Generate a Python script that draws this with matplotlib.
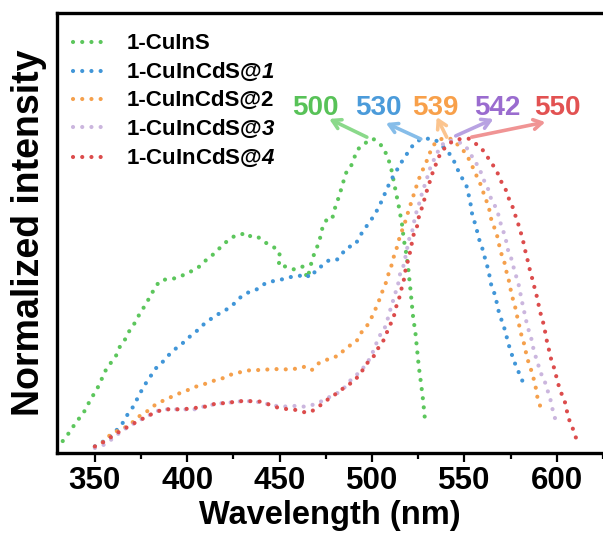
import numpy as np
import matplotlib.pyplot as plt

plt.rcParams['font.family'] = ['Liberation Sans', 'DejaVu Sans']
plt.rcParams['font.weight'] = 'bold'
plt.rcParams['mathtext.fontset'] = 'custom'
plt.rcParams['mathtext.rm'] = 'Liberation Sans:bold'
# digits inside \mathit fall back to roman, so the italic face goes in sf
plt.rcParams['mathtext.sf'] = 'Liberation Sans:italic:bold'

# 1-CuInS
wl_s = [332.6, 335.6, 340.1, 343.7, 347.3, 352.3, 355.4, 359.0, 361.7, 363.5, 366.2, 368.9,
        372.1, 374.3, 377.9, 379.7, 382.4, 385.1, 389.0, 392.6, 396.8, 400.3, 403.9, 407.6,
        410.2, 414.7, 419.2, 422.4, 425.5, 428.6, 431.8, 434.5, 438.1, 441.7, 444.4, 448.9,
        450.7, 449.2, 453.4, 457.9, 462.4, 465.1, 467.8, 469.6, 471.4, 473.1, 475.8, 478.5,
        480.4, 482.1, 485.8, 488.5, 492.0, 494.7, 497.4, 500.5, 503.7, 506.4, 508.2, 510.0,
        511.8, 513.6, 514.5, 516.3, 517.2, 518.1, 519.5, 520.8, 522.2, 523.5, 524.4, 525.3,
        526.5, 527.6, 528.5]
int_s = [0.038, 0.061, 0.100, 0.126, 0.166, 0.216, 0.259, 0.290, 0.312, 0.338, 0.360, 0.391,
         0.418, 0.444, 0.476, 0.497, 0.524, 0.548, 0.553, 0.555, 0.563, 0.574, 0.582, 0.598,
         0.614, 0.635, 0.662, 0.678, 0.690, 0.694, 0.701, 0.688, 0.688, 0.672, 0.662, 0.648,
         0.620, 0.598, 0.593, 0.584, 0.593, 0.556, 0.620, 0.646, 0.672, 0.715, 0.747, 0.747,
         0.789, 0.815, 0.890, 0.911, 0.964, 0.980, 0.990, 1.000, 0.987, 0.969, 0.943, 0.916,
         0.863, 0.810, 0.784, 0.725, 0.678, 0.651, 0.593, 0.519, 0.434, 0.381, 0.328, 0.275,
         0.222, 0.169, 0.115]

# 1-CuInCdS@1
wl_1 = [350.0, 357.0, 359.9, 363.1, 365.6, 368.0, 370.7, 372.8, 375.2, 377.9, 380.0, 382.9,
        386.0, 388.7, 391.4, 394.9, 398.5, 402.2, 405.7, 408.4, 412.0, 415.6, 419.2, 424.6,
        429.1, 432.7, 437.2, 440.8, 444.4, 448.0, 451.6, 454.3, 457.0, 460.6, 463.3, 466.0,
        467.7, 469.6, 472.3, 476.8, 481.2, 483.6, 486.6, 490.8, 492.9, 495.1, 498.0, 500.1,
        502.8, 504.6, 506.4, 508.2, 510.0, 512.7, 514.9, 517.7, 519.9, 522.6, 526.2, 530.3,
        533.9, 537.5, 540.6, 543.3, 545.4, 547.2, 549.6, 551.3, 552.3, 553.2, 553.7, 555.0,
        556.4, 557.3, 558.6, 560.4, 561.3, 562.7, 563.6, 564.5, 566.1, 567.2, 568.1, 569.4,
        571.1, 572.4, 573.5, 574.8, 576.2, 577.8, 579.6, 581.4, 583.2]
int_1 = [0.021, 0.045, 0.063, 0.080, 0.100, 0.126, 0.147, 0.171, 0.198, 0.225, 0.243, 0.269,
         0.285, 0.304, 0.320, 0.338, 0.354, 0.375, 0.391, 0.407, 0.423, 0.439, 0.448, 0.471,
         0.497, 0.510, 0.519, 0.535, 0.545, 0.548, 0.553, 0.558, 0.561, 0.563, 0.570, 0.561,
         0.561, 0.584, 0.593, 0.614, 0.616, 0.633, 0.654, 0.662, 0.683, 0.707, 0.729, 0.747,
         0.773, 0.794, 0.818, 0.842, 0.866, 0.892, 0.916, 0.941, 0.961, 0.983, 0.998, 1.000,
         0.998, 0.980, 0.962, 0.941, 0.916, 0.890, 0.866, 0.847, 0.821, 0.800, 0.771, 0.744,
         0.718, 0.694, 0.667, 0.640, 0.614, 0.588, 0.563, 0.535, 0.510, 0.487, 0.460, 0.434,
         0.407, 0.381, 0.354, 0.328, 0.304, 0.278, 0.254, 0.229, 0.206]

# 1-CuInCdS@2
wl_2 = [350.0, 355.4, 359.0, 363.5, 368.9, 373.4, 377.0, 379.7, 383.3, 386.8, 390.8, 394.9,
        399.5, 403.4, 407.6, 411.7, 415.3, 419.2, 422.8, 427.3, 431.8, 435.8, 439.9, 444.0,
        448.0, 452.5, 456.6, 460.2, 463.8, 467.4, 471.0, 474.6, 478.2, 482.1, 484.8, 488.5,
        491.5, 493.8, 496.5, 498.9, 501.0, 502.8, 504.6, 506.0, 507.9, 509.1, 510.6, 511.8,
        513.3, 514.5, 516.0, 517.7, 519.0, 520.4, 521.7, 523.1, 524.4, 526.2, 528.0, 529.8,
        531.2, 533.4, 535.7, 538.2, 540.6, 543.6, 546.5, 549.6, 551.9, 554.0, 555.9, 558.0,
        559.8, 560.9, 563.0, 563.9, 564.8, 566.7, 568.1, 569.0, 570.2, 571.7, 572.6, 573.8,
        574.7, 575.6, 576.9, 578.3, 578.8, 580.1, 581.0, 582.5, 583.4, 584.6, 586.0, 587.3,
        588.5, 589.0, 590.4, 591.8]
int_2 = [0.019, 0.038, 0.063, 0.073, 0.089, 0.115, 0.126, 0.140, 0.156, 0.166, 0.177, 0.188,
         0.198, 0.209, 0.216, 0.224, 0.232, 0.238, 0.248, 0.255, 0.262, 0.264, 0.264, 0.266,
         0.267, 0.266, 0.267, 0.269, 0.275, 0.264, 0.285, 0.294, 0.304, 0.309, 0.328, 0.344,
         0.354, 0.381, 0.397, 0.421, 0.446, 0.471, 0.497, 0.521, 0.547, 0.574, 0.598, 0.625,
         0.651, 0.678, 0.704, 0.731, 0.757, 0.782, 0.807, 0.831, 0.856, 0.885, 0.908, 0.932,
         0.954, 0.980, 0.996, 1.000, 1.002, 0.998, 0.980, 0.961, 0.941, 0.916, 0.890, 0.865,
         0.839, 0.814, 0.789, 0.760, 0.736, 0.710, 0.683, 0.656, 0.630, 0.605, 0.580, 0.556,
         0.529, 0.503, 0.476, 0.446, 0.423, 0.397, 0.370, 0.344, 0.317, 0.290, 0.266, 0.240,
         0.213, 0.188, 0.160, 0.135]

# 1-CuInCdS@3
wl_3 = [350.0, 354.5, 358.1, 363.1, 367.8, 371.6, 375.4, 379.7, 384.1, 388.7, 394.1, 398.5,
        403.0, 406.6, 410.9, 415.3, 419.6, 423.9, 428.2, 432.5, 436.8, 441.2, 445.5, 449.8,
        454.1, 458.8, 464.2, 467.7, 471.4, 475.0, 478.5, 483.9, 489.3, 493.8, 498.3, 501.0,
        503.7, 506.4, 508.2, 509.1, 510.9, 511.8, 513.6, 514.5, 515.4, 517.2, 518.1, 519.0,
        519.9, 521.7, 522.6, 523.5, 524.9, 526.2, 527.4, 528.9, 530.3, 531.6, 533.4, 535.2,
        537.0, 539.7, 542.4, 545.1, 547.8, 550.5, 553.2, 555.0, 557.7, 560.9, 562.7, 564.0,
        566.3, 568.1, 569.0, 571.7, 572.9, 573.8, 575.3, 576.5, 577.8, 579.2, 580.1, 581.0,
        581.9, 582.8, 583.7, 585.0, 586.4, 587.3, 588.6, 590.0, 590.9, 593.3, 594.5, 596.3,
        597.0, 598.1, 599.3]
int_3 = [0.016, 0.025, 0.039, 0.063, 0.083, 0.095, 0.108, 0.121, 0.134, 0.139, 0.139, 0.139,
         0.137, 0.145, 0.150, 0.156, 0.159, 0.161, 0.164, 0.165, 0.164, 0.159, 0.153, 0.148,
         0.148, 0.150, 0.147, 0.153, 0.160, 0.174, 0.181, 0.200, 0.238, 0.259, 0.296, 0.328,
         0.370, 0.391, 0.418, 0.444, 0.471, 0.497, 0.524, 0.548, 0.577, 0.598, 0.625, 0.651,
         0.678, 0.704, 0.731, 0.757, 0.782, 0.807, 0.835, 0.858, 0.885, 0.909, 0.932, 0.954,
         0.975, 0.990, 0.994, 0.990, 0.987, 0.977, 0.954, 0.932, 0.911, 0.863, 0.842, 0.815,
         0.789, 0.765, 0.741, 0.694, 0.667, 0.640, 0.620, 0.593, 0.566, 0.540, 0.513, 0.487,
         0.460, 0.439, 0.413, 0.386, 0.360, 0.333, 0.306, 0.280, 0.259, 0.232, 0.206, 0.179,
         0.155, 0.130, 0.105]

# 1-CuInCdS@4
wl_4 = [350.0, 353.6, 357.2, 360.8, 364.4, 368.0, 371.6, 375.2, 379.7, 382.4, 386.0, 389.5,
        394.1, 397.6, 402.2, 406.6, 410.2, 414.7, 418.3, 422.8, 427.3, 431.8, 435.4, 439.0,
        443.5, 447.1, 451.2, 454.8, 458.8, 462.4, 465.1, 467.7, 471.0, 475.0, 478.2, 482.1,
        486.6, 490.2, 492.9, 495.6, 498.3, 501.6, 503.7, 506.4, 508.2, 510.0, 511.8, 512.7,
        514.5, 515.4, 516.8, 517.7, 518.4, 519.9, 520.8, 521.7, 522.6, 524.4, 525.3, 526.7,
        528.0, 529.2, 530.7, 532.1, 533.4, 535.2, 537.0, 539.7, 542.4, 545.1, 548.7, 552.6,
        555.9, 558.6, 561.3, 564.0, 566.7, 568.4, 570.2, 572.4, 574.2, 576.0, 577.5, 578.9,
        580.1, 581.4, 582.5, 583.4, 584.6, 585.5, 586.8, 587.9, 589.1, 590.0, 590.9, 592.3,
        593.3, 594.2, 595.0, 596.3, 597.2, 599.0, 599.9, 601.2, 602.6, 604.5, 605.4, 606.6,
        608.4, 609.9, 611.3]
int_4 = [0.021, 0.031, 0.044, 0.059, 0.072, 0.084, 0.096, 0.107, 0.121, 0.128, 0.137, 0.139,
         0.139, 0.139, 0.142, 0.145, 0.148, 0.156, 0.158, 0.160, 0.165, 0.165, 0.165, 0.164,
         0.156, 0.147, 0.142, 0.139, 0.137, 0.131, 0.128, 0.134, 0.147, 0.166, 0.179, 0.195,
         0.216, 0.227, 0.248, 0.269, 0.294, 0.312, 0.338, 0.360, 0.386, 0.410, 0.434, 0.460,
         0.487, 0.513, 0.538, 0.566, 0.593, 0.620, 0.646, 0.672, 0.697, 0.722, 0.750, 0.775,
         0.800, 0.826, 0.853, 0.879, 0.903, 0.927, 0.954, 0.973, 0.987, 0.996, 1.000, 1.000,
         0.985, 0.973, 0.954, 0.927, 0.906, 0.885, 0.860, 0.837, 0.807, 0.784, 0.757, 0.733,
         0.710, 0.683, 0.656, 0.630, 0.605, 0.580, 0.553, 0.527, 0.500, 0.476, 0.450, 0.423,
         0.397, 0.370, 0.344, 0.317, 0.290, 0.264, 0.238, 0.211, 0.188, 0.160, 0.135, 0.107,
         0.082, 0.057, 0.031]

labels = ['1-CuInS', r'1-CuInCdS@$\mathsf{1}$', '1-CuInCdS@2',
          r'1-CuInCdS@$\mathsf{3}$', r'1-CuInCdS@$\mathsf{4}$']
colors = ['#5cc65c', '#4196d8', '#f5a04c', '#cbb6de', '#dc4c4c']

# peak annotations
peak_text = ['500', '530', '539', '542', '550']
text_colors = ['#58c258', '#4b9bda', '#f8a04a', '#9a6ccf', '#e25252']
arrow_colors = ['#8ad98a', '#86bde9', '#fbc48e', '#b8a2e2', '#f09494']
arrow_tail = [(497.2, 1.005), (526.4, 0.999), (540.4, 1.005), (545.3, 1.009), (553.9, 1.005)]
arrow_head = [(476.8, 1.063), (507.5, 1.050), (535.0, 1.069), (565.7, 1.063), (593.8, 1.053)]
text_x = [469.2, 503.2, 534.5, 567.9, 600.3]

fig = plt.figure(figsize=(6.03, 5.37), dpi=100)
ax = fig.add_axes([57/603, 84/537, 546/603, 440/537])

xs = [wl_s, wl_1, wl_2, wl_3, wl_4]
ys = [int_s, int_1, int_2, int_3, int_4]
for x, y, c, lab in zip(xs, ys, colors, labels):
    ax.plot(x, y, color=c, lw=3.0, linestyle=(0, (0.01, 2.2)),
            dash_capstyle='round', label=lab)

for t, tc, ac, tail, head, tx in zip(peak_text, text_colors, arrow_colors,
                                     arrow_tail, arrow_head, text_x):
    ax.annotate('', xy=head, xytext=tail,
                arrowprops=dict(arrowstyle='->,head_length=0.6,head_width=0.35',
                                color=ac, lw=2.6, shrinkA=0, shrinkB=0))
    ax.text(tx, 1.075, t, color=tc, fontsize=20, fontweight='bold',
            ha='center', va='baseline')

ax.set_xlim(329.5, 624)
ax.set_ylim(0, 1.4)
ax.set_xticks([350, 400, 450, 500, 550, 600])
ax.set_xticks([375, 425, 475, 525, 575, 625], minor=True)
ax.set_yticks([])
ax.spines['right'].set_visible(False)
for s in ['left', 'bottom', 'top']:
    ax.spines[s].set_linewidth(2.4)
ax.tick_params(axis='x', which='major', direction='out', length=6.5, width=1.6,
               labelsize=22.5, pad=3)
ax.tick_params(axis='x', which='minor', direction='out', length=4, width=1.6)
for lb in ax.get_xticklabels():
    lb.set_fontweight('bold')

ax.set_xlabel('Wavelength (nm)', fontsize=23.5, fontweight='bold', labelpad=3)
ax.set_ylabel('Normalized intensity', fontsize=27, fontweight='bold', labelpad=7)

ax.legend(loc='upper left', bbox_to_anchor=(0.013, 0.974), frameon=False,
          fontsize=16, handlelength=1.5, handletextpad=0.9, labelspacing=0.31,
          borderaxespad=0)

fig.savefig('out.png', dpi=100)
